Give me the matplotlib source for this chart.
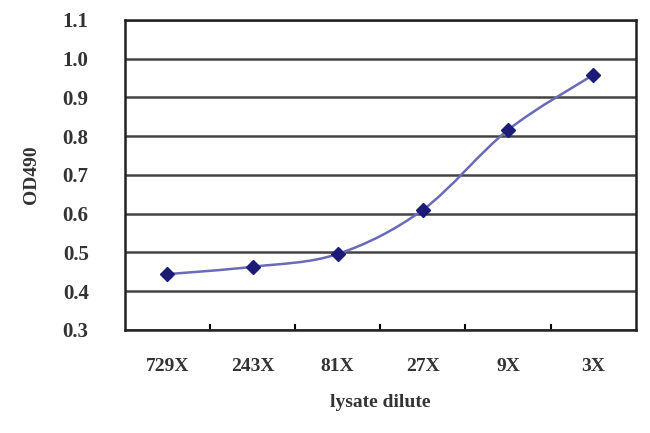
import numpy as np
import matplotlib
matplotlib.use("Agg")
import matplotlib.pyplot as plt
from matplotlib.path import Path
from matplotlib.patches import PathPatch

# Veriler
labels = ["729X", "243X", "81X", "27X", "9X", "3X"]
od490 = [0.444, 0.463, 0.496, 0.610, 0.816, 0.958]

plt.rcParams["font.family"] = ["Liberation Serif", "DejaVu Serif"]

fig = plt.figure(figsize=(6.5, 4.33), dpi=100)
ax = fig.add_axes([0.192, 0.238, 0.786, 0.716])

x = np.arange(len(labels))
y = np.array(od490)

# Excel tarzı yumuşatılmış çizgi (Catmull-Rom -> Bezier)
verts = [(x[0], y[0])]
codes = [Path.MOVETO]
n = len(x)
for i in range(n - 1):
    p0 = (x[max(i - 1, 0)], y[max(i - 1, 0)])
    p1 = (x[i], y[i])
    p2 = (x[i + 1], y[i + 1])
    p3 = (x[min(i + 2, n - 1)], y[min(i + 2, n - 1)])
    c1 = (p1[0] + (p2[0] - p0[0]) / 6, p1[1] + (p2[1] - p0[1]) / 6)
    c2 = (p2[0] - (p3[0] - p1[0]) / 6, p2[1] - (p3[1] - p1[1]) / 6)
    verts += [c1, c2, p2]
    codes += [Path.CURVE4] * 3
ax.add_patch(PathPatch(Path(verts, codes), facecolor="none",
                       edgecolor="#6a6ab8", lw=1.8, zorder=3))
ax.plot(x, y, linestyle="none", marker="D", markersize=7,
        color="#1c1c78", zorder=4)

ax.set_xlim(-0.5, n - 0.5)
ax.set_ylim(0.3, 1.1)
ax.set_yticks(np.arange(0.3, 1.11, 0.1))
ax.set_yticklabels([f"{v:.1f}" for v in np.arange(0.3, 1.11, 0.1)],
                   fontweight="bold", color="#333333")
ax.yaxis.grid(True, color="#444444", lw=1.8)
ax.set_axisbelow(True)
ax.tick_params(axis="y", length=0, pad=26, labelsize=15)

ax.set_xticks(x)
ax.set_xticklabels(labels, fontweight="bold", color="#333333")
ax.set_xticks(np.arange(0.5, n - 0.5, 1), minor=True)
ax.tick_params(axis="x", which="major", length=0, pad=20, labelsize=14)
ax.tick_params(axis="x", which="minor", direction="in", length=4, width=1.5)

for s in ax.spines.values():
    s.set_linewidth(1.8)
    s.set_color("#222222")

ax.set_xlabel("lysate dilute", fontsize=14, fontweight="bold",
              color="#333333", labelpad=14)
ax.set_ylabel("OD490", fontsize=14, fontweight="bold",
              color="#333333", labelpad=16)

fig.savefig("out.png", dpi=100)
